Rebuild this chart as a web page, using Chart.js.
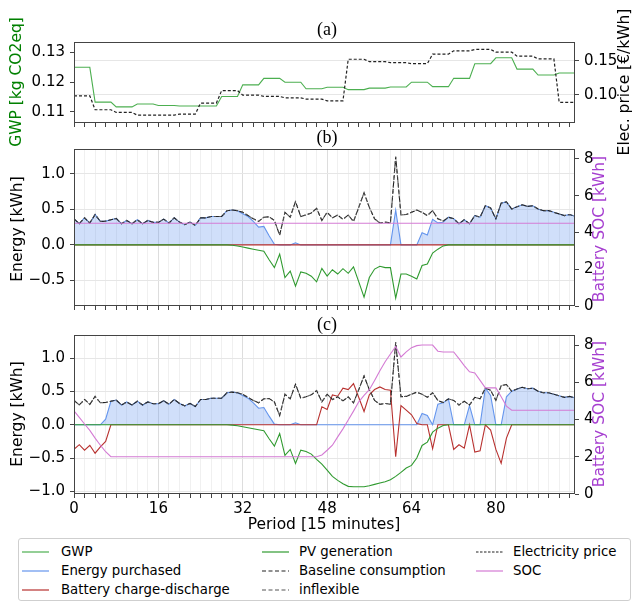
<!DOCTYPE html>
<html>
<head>
<meta charset="utf-8">
<script src="https://cdn.jsdelivr.net/npm/chart.js@4.4.1/dist/chart.umd.min.js"></script>
<style>
  body { margin: 0; background: #fff; }
  #wrap { position: relative; width: 638px; height: 601px; overflow: hidden; font-family: "DejaVu Sans", sans-serif; }
  canvas { position: absolute; left: 0; }
  #legend { position: absolute; left: 18px; top: 538px; width: 611px; height: 61px; border: 1px solid #cfcfcf; border-radius: 3px; background: #fff; }
  .item { position: absolute; height: 16px; font-size: 13.3px; line-height: 16px; white-space: nowrap; color: #000; }
  .item svg { position: absolute; left: 0; top: 7px; }
  .item span { position: absolute; top: 0; }
</style>
</head>
<body>
<div id="wrap">
  <canvas id="chart-a" width="638" height="165" style="top:0px"></canvas>
  <canvas id="chart-b" width="638" height="200" style="top:120px"></canvas>
  <canvas id="chart-c" width="638" height="232" style="top:305px"></canvas>
  <div id="legend"></div>
</div>
<script>
// x axis: 15 minute periods of one day
const periods = Array.from({ length: 96 }, (_, i) => i);
const xLabels = [0, 16, 32, 48, 64, 80];

// (a) GWP [kg CO2eq] and electricity price [€/kWh]
const gwp = [
  0.1250, 0.1250, 0.1250, 0.1250, 0.1133, 0.1133, 0.1133, 0.1133,
  0.1117, 0.1117, 0.1117, 0.1117, 0.1127, 0.1127, 0.1127, 0.1127,
  0.1122, 0.1122, 0.1122, 0.1122, 0.1120, 0.1120, 0.1120, 0.1120,
  0.1120, 0.1120, 0.1120, 0.1120, 0.1152, 0.1152, 0.1152, 0.1152,
  0.1191, 0.1191, 0.1191, 0.1191, 0.1213, 0.1213, 0.1213, 0.1213,
  0.1200, 0.1200, 0.1200, 0.1200, 0.1178, 0.1178, 0.1178, 0.1178,
  0.1183, 0.1183, 0.1183, 0.1183, 0.1175, 0.1175, 0.1175, 0.1175,
  0.1180, 0.1180, 0.1180, 0.1180, 0.1184, 0.1184, 0.1184, 0.1184,
  0.1200, 0.1200, 0.1200, 0.1200, 0.1185, 0.1185, 0.1185, 0.1185,
  0.1213, 0.1213, 0.1213, 0.1213, 0.1262, 0.1262, 0.1262, 0.1262,
  0.1282, 0.1282, 0.1282, 0.1282, 0.1244, 0.1244, 0.1244, 0.1244,
  0.1224, 0.1224, 0.1224, 0.1224, 0.1231, 0.1231, 0.1231, 0.1231
];
const price = [
  0.0985, 0.0985, 0.0985, 0.0985, 0.0780, 0.0780, 0.0780, 0.0780,
  0.0740, 0.0740, 0.0740, 0.0740, 0.0700, 0.0700, 0.0700, 0.0700,
  0.0700, 0.0700, 0.0700, 0.0700, 0.0716, 0.0716, 0.0716, 0.0716,
  0.0878, 0.0878, 0.0878, 0.0878, 0.1063, 0.1063, 0.1063, 0.1063,
  0.0995, 0.0995, 0.0995, 0.0995, 0.0976, 0.0976, 0.0976, 0.0976,
  0.0956, 0.0956, 0.0956, 0.0956, 0.0936, 0.0936, 0.0936, 0.0936,
  0.0912, 0.0912, 0.0912, 0.0912, 0.1525, 0.1525, 0.1525, 0.1525,
  0.1490, 0.1490, 0.1490, 0.1490, 0.1475, 0.1475, 0.1475, 0.1475,
  0.1460, 0.1460, 0.1460, 0.1460, 0.1600, 0.1600, 0.1600, 0.1600,
  0.1650, 0.1650, 0.1650, 0.1650, 0.1670, 0.1670, 0.1670, 0.1670,
  0.1630, 0.1630, 0.1630, 0.1630, 0.1570, 0.1570, 0.1570, 0.1570,
  0.1530, 0.1530, 0.1530, 0.1530, 0.0890, 0.0890, 0.0890, 0.0890
];

// consumption [kWh] (baseline = inflexible here)
const consumption = [
  0.367, 0.298, 0.381, 0.308, 0.427, 0.331, 0.335, 0.354, 0.372, 0.298,
  0.344, 0.298, 0.354, 0.298, 0.344, 0.317, 0.317, 0.363, 0.308, 0.381,
  0.321, 0.285, 0.321, 0.275, 0.381, 0.381, 0.400, 0.400, 0.400, 0.482,
  0.491, 0.482, 0.459, 0.413, 0.367, 0.331, 0.390, 0.395, 0.344, 0.138,
  0.459, 0.390, 0.610, 0.400, 0.422, 0.450, 0.514, 0.344, 0.459, 0.380,
  0.420, 0.360, 0.420, 0.330, 0.530, 0.735, 0.528, 0.367, 0.308, 0.321,
  0.308, 1.240, 0.422, 0.427, 0.459, 0.491, 0.459, 0.413, 0.482, 0.367,
  0.335, 0.390, 0.367, 0.298, 0.354, 0.298, 0.413, 0.390, 0.551, 0.519,
  0.367, 0.588, 0.606, 0.505, 0.537, 0.565, 0.542, 0.551, 0.505, 0.482,
  0.482, 0.459, 0.436, 0.413, 0.427, 0.404
];

// (b) no battery use
const pvB = [
  0, 0, 0, 0, 0, 0, 0, 0, 0, 0,
  0, 0, 0, 0, 0, 0, 0, 0, 0, 0,
  0, 0, 0, 0, 0, 0, 0, 0, 0, 0,
  -0.005, -0.015, -0.03, -0.045, -0.06, -0.075, -0.09, -0.21, -0.32, -0.13,
  -0.46, -0.37, -0.58, -0.38, -0.40, -0.44, -0.52, -0.33, -0.44, -0.35,
  -0.41, -0.335, -0.40, -0.31, -0.52, -0.735, -0.46, -0.34, -0.30, -0.32,
  -0.32, -0.75, -0.41, -0.41, -0.44, -0.48, -0.29, -0.27, -0.115, -0.06,
  -0.014, 0, 0, 0, 0, 0, 0, 0, 0, 0,
  0, 0, 0, 0, 0, 0, 0, 0, 0, 0,
  0, 0, 0, 0, 0, 0
];
const purchasedB = [
  0.367, 0.298, 0.381, 0.308, 0.427, 0.331, 0.335, 0.354, 0.372, 0.298,
  0.344, 0.298, 0.354, 0.298, 0.344, 0.317, 0.317, 0.363, 0.308, 0.381,
  0.321, 0.285, 0.321, 0.275, 0.381, 0.381, 0.400, 0.400, 0.400, 0.482,
  0.491, 0.482, 0.44, 0.40, 0.33, 0.25, 0.26, 0.13, 0.01, 0,
  0, 0, 0.03, 0, 0, 0, 0, 0, 0, 0,
  0, 0, 0, 0, 0, 0, 0, 0, 0, 0,
  0, 0.49, 0, 0, 0, 0, 0.17, 0.14, 0.36, 0.31,
  0.32, 0.390, 0.367, 0.298, 0.354, 0.298, 0.413, 0.390, 0.551, 0.519,
  0.367, 0.588, 0.606, 0.505, 0.537, 0.565, 0.542, 0.551, 0.505, 0.482,
  0.482, 0.459, 0.436, 0.413, 0.427, 0.404
];
const batteryB = [
  0, 0, 0, 0, 0, 0, 0, 0, 0, 0, 0, 0, 0, 0, 0, 0,
  0, 0, 0, 0, 0, 0, 0, 0, 0, 0, 0, 0, 0, 0, 0, 0,
  0, 0, 0, 0, 0, 0, 0, 0, 0, 0, 0, 0, 0, 0, 0, 0,
  0, 0, 0, 0, 0, 0, 0, 0, 0, 0, 0, 0, 0, 0, 0, 0,
  0, 0, 0, 0, 0, 0, 0, 0, 0, 0, 0, 0, 0, 0, 0, 0,
  0, 0, 0, 0, 0, 0, 0, 0, 0, 0, 0, 0, 0, 0, 0, 0
];
const socB = [
  4.5, 4.5, 4.5, 4.5, 4.5, 4.5, 4.5, 4.5, 4.5, 4.5, 4.5, 4.5, 4.5, 4.5, 4.5, 4.5,
  4.5, 4.5, 4.5, 4.5, 4.5, 4.5, 4.5, 4.5, 4.5, 4.5, 4.5, 4.5, 4.5, 4.5, 4.5, 4.5,
  4.5, 4.5, 4.5, 4.5, 4.5, 4.5, 4.5, 4.5, 4.5, 4.5, 4.5, 4.5, 4.5, 4.5, 4.5, 4.5,
  4.5, 4.5, 4.5, 4.5, 4.5, 4.5, 4.5, 4.5, 4.5, 4.5, 4.5, 4.5, 4.5, 4.5, 4.5, 4.5,
  4.5, 4.5, 4.5, 4.5, 4.5, 4.5, 4.5, 4.5, 4.5, 4.5, 4.5, 4.5, 4.5, 4.5, 4.5, 4.5,
  4.5, 4.5, 4.5, 4.5, 4.5, 4.5, 4.5, 4.5, 4.5, 4.5, 4.5, 4.5, 4.5, 4.5, 4.5, 4.5
];

// (c) with battery scheduling
const pvC = [
  0, 0, 0, 0, 0, 0, 0, 0, 0, 0,
  0, 0, 0, 0, 0, 0, 0, 0, 0, 0,
  0, 0, 0, 0, 0, 0, 0, 0, 0, 0,
  -0.005, -0.015, -0.03, -0.045, -0.06, -0.075, -0.09, -0.21, -0.32, -0.13,
  -0.46, -0.37, -0.58, -0.38, -0.40, -0.44, -0.52, -0.59, -0.68, -0.775,
  -0.835, -0.885, -0.925, -0.93, -0.93, -0.93, -0.915, -0.895, -0.875, -0.855,
  -0.825, -0.775, -0.715, -0.65, -0.61, -0.50, -0.31, -0.26, -0.11, -0.05,
  -0.01, 0, 0, 0, 0, 0, 0, 0, 0, 0,
  0, 0, 0, 0, 0, 0, 0, 0, 0, 0,
  0, 0, 0, 0, 0, 0
];
const purchasedC = [
  0, 0, 0, 0, 0, 0, 0.085, 0.354, 0.372, 0.298,
  0.344, 0.298, 0.354, 0.298, 0.344, 0.317, 0.317, 0.363, 0.308, 0.381,
  0.321, 0.285, 0.321, 0.275, 0.381, 0.381, 0.400, 0.400, 0.400, 0.482,
  0.491, 0.482, 0.44, 0.40, 0.33, 0.25, 0.26, 0.13, 0.01, 0,
  0, 0, 0.03, 0, 0, 0, 0, 0, 0, 0,
  0, 0, 0, 0, 0, 0, 0, 0, 0, 0,
  0, 0, 0, 0, 0, 0, 0.17, 0.14, 0, 0.31,
  0.33, 0.39, 0, 0, 0, 0.29, 0, 0, 0.55, 0.44,
  0, 0, 0.42, 0.505, 0.537, 0.565, 0.542, 0.551, 0.505, 0.482,
  0.482, 0.459, 0.436, 0.413, 0.427, 0.404
];
const batteryC = [
  -0.367, -0.298, -0.381, -0.308, -0.427, -0.331, -0.25, 0, 0, 0,
  0, 0, 0, 0, 0, 0, 0, 0, 0, 0,
  0, 0, 0, 0, 0, 0, 0, 0, 0, 0,
  0, 0, 0, 0, 0, 0, 0, 0, 0, 0,
  0, 0, 0, 0, 0, 0, 0, 0.27, 0.23, 0.45,
  0.43, 0.55, 0.53, 0.62, 0.41, 0.20, 0.45, 0.53, 0.57, 0.53,
  0.52, -0.48, 0.29, 0.22, 0.15, 0.02, 0, 0, -0.36, 0,
  0, 0, -0.37, -0.30, -0.35, 0, -0.41, -0.39, 0, -0.08,
  -0.37, -0.58, -0.20, 0, 0, 0, 0, 0, 0, 0,
  0, 0, 0, 0, 0, 0
];
const socC = [
  4.47, 4.12, 3.76, 3.42, 3.00, 2.62, 2.27, 2.0, 2.0, 2.0,
  2.0, 2.0, 2.0, 2.0, 2.0, 2.0, 2.0, 2.0, 2.0, 2.0,
  2.0, 2.0, 2.0, 2.0, 2.0, 2.0, 2.0, 2.0, 2.0, 2.0,
  2.0, 2.0, 2.0, 2.0, 2.0, 2.0, 2.0, 2.0, 2.0, 2.0,
  2.0, 2.0, 2.0, 2.0, 2.0, 2.0, 2.0, 2.10, 2.35, 2.62,
  3.07, 3.50, 3.97, 4.45, 4.95, 5.30, 5.60, 6.10, 6.62, 7.10,
  7.52, 7.92, 7.36, 7.63, 7.86, 7.97, 8.0, 8.0, 8.0, 7.67,
  7.63, 7.63, 7.63, 7.27, 6.90, 6.56, 6.50, 6.10, 5.70, 5.70,
  5.70, 5.22, 4.72, 4.5, 4.5, 4.5, 4.5, 4.5, 4.5, 4.5,
  4.5, 4.5, 4.5, 4.5, 4.5, 4.5
];

// colours
const gwpColor = '#4caf50';
const pvColor = '#2f9a2f';
const priceColor = '#222222';
const buyColor = '#6495ed';
const battColor = '#b8312f';
const baseColor = '#222222';
const inflexColor = '#555555';
const socColor = '#d47bd4';
const socTitleColor = '#a63fd0';

const FONT = '"DejaVu Sans", sans-serif';
Chart.defaults.font.family = FONT;
Chart.defaults.font.size = 15;
Chart.defaults.color = '#000';

// frame around each plot area
const framePlugin = {
  id: 'frame',
  afterDraw(chart) {
    const a = chart.chartArea, ctx = chart.ctx;
    ctx.save();
    ctx.strokeStyle = '#444';
    ctx.lineWidth = 1;
    ctx.strokeRect(a.left + 0.5, a.top + 0.5, a.right - a.left - 1, a.bottom - a.top - 1);
    ctx.restore();
  }
};
// panel titles and axis titles
const textPlugin = {
  id: 'texts',
  afterDraw(chart, args, opts) {
    const ctx = chart.ctx;
    (opts.items || []).forEach(it => {
      ctx.save();
      ctx.font = it.font || ('15.5px ' + FONT);
      ctx.fillStyle = it.color || '#000';
      ctx.textAlign = 'center';
      ctx.textBaseline = 'middle';
      ctx.translate(it.x, it.y - opts.top);
      if (it.rot) ctx.rotate(it.rot * Math.PI / 180);
      ctx.fillText(it.text, 0, 0);
      ctx.restore();
    });
  }
};
Chart.register(framePlugin, textPlugin);

function pts(arr) {
  return arr.map((v, i) => ({ x: periods[i], y: v }));
}
function line(label, arr, color, extra) {
  return Object.assign({
    label: label, data: pts(arr), borderColor: color, backgroundColor: color,
    borderWidth: 1.1, pointRadius: 0, fill: false, tension: 0
  }, extra || {});
}
function fixedTicks(values) {
  return scale => { scale.ticks = values.map(v => ({ value: v })); };
}
function minus(v, d) {
  return (v < 0 ? '\u2212' : '') + Math.abs(v).toFixed(d);
}

const xMinor = [];
for (let p = 0; p <= 94; p += 2) xMinor.push(p);

function xScale(height, showLabels, vgrid) {
  return {
    type: 'linear', min: 0, max: 95,
    afterBuildTicks: fixedTicks(xMinor),
    afterFit: s => { s.height = height; },
    border: { display: false },
    grid: {
      drawOnChartArea: vgrid,
      color: ctx => (ctx.tick && ctx.tick.value % 16 === 0) ? '#dddddd' : '#f0f0f0',
      tickColor: '#444', tickLength: 4
    },
    ticks: {
      autoSkip: false, maxRotation: 0, padding: 2,
      callback: v => (showLabels && xLabels.includes(v)) ? String(v) : ''
    }
  };
}
function yScale(pos, min, max, ticks, fmt, width, grid) {
  return {
    type: 'linear', position: pos, min: min, max: max,
    afterBuildTicks: fixedTicks(ticks),
    afterFit: s => { s.width = width; },
    border: { display: false },
    grid: { drawOnChartArea: grid, color: '#e6e6e6', tickColor: '#444', tickLength: 4 },
    ticks: { padding: 5, callback: fmt }
  };
}
function baseOptions(padTop, scales, texts, top) {
  return {
    responsive: false, animation: false, devicePixelRatio: 1,
    layout: { padding: { top: padTop, left: 0, right: 0, bottom: 0 } },
    scales: scales,
    plugins: { legend: { display: false }, tooltip: { enabled: false }, texts: { items: texts, top: top } }
  };
}

// panel (a)
new Chart(document.getElementById('chart-a'), {
  type: 'line',
  data: {
    datasets: [
      line('Electricity price', price, priceColor, { yAxisID: 'y2', borderDash: [3, 2], borderWidth: 1.2 }),
      line('GWP', gwp, gwpColor, { yAxisID: 'y' })
    ]
  },
  options: baseOptions(42, {
    x: xScale(42, false, false),
    y: yScale('left', 0.1063, 0.1335, [0.11, 0.12, 0.13], v => v.toFixed(2), 74, false),
    y2: yScale('right', 0.0584, 0.178, [0.10, 0.15], v => v.toFixed(2), 63, true)
  }, [
    { text: '(a)', x: 327, y: 30, font: '18px "Liberation Serif", serif' },
    { text: 'GWP [kg CO2eq]', x: 17, y: 82, rot: -90, color: '#008000' },
    { text: 'Elec. price [€/kWh]', x: 625, y: 82, rot: -90 }
  ], 0)
});

function energyDatasets(purchased, battery, pv, soc) {
  return [
    line('SOC', soc, socColor, { yAxisID: 'y2' }),
    line('inflexible', consumption, inflexColor, { yAxisID: 'y', borderDash: [2, 3] }),
    line('Baseline consumption', consumption, baseColor, { yAxisID: 'y', borderDash: [5, 2] }),
    line('PV generation', pv, pvColor, { yAxisID: 'y' }),
    line('Battery charge-discharge', battery, battColor, { yAxisID: 'y' }),
    line('Energy purchased', purchased, buyColor, { yAxisID: 'y', fill: 'origin', backgroundColor: 'rgba(100,149,237,0.3)' })
  ];
}

// panel (b)
new Chart(document.getElementById('chart-b'), {
  type: 'line',
  data: { datasets: energyDatasets(purchasedB, batteryB, pvB, socB) },
  options: baseOptions(29, {
    x: xScale(11, false, true),
    y: yScale('left', -0.86, 1.35, [-0.5, 0, 0.5, 1.0], v => minus(v, 1), 74, true),
    y2: yScale('right', 0, 8.54, [0, 2, 4, 6, 8], v => String(v), 63, false)
  }, [
    { text: '(b)', x: 327, y: 138, font: '18px "Liberation Serif", serif' },
    { text: 'Energy [kWh]', x: 18, y: 229, rot: -90 },
    { text: 'Battery SOC [kWh]', x: 600, y: 229, rot: -90, color: socTitleColor }
  ], 120)
});

// panel (c)
new Chart(document.getElementById('chart-c'), {
  type: 'line',
  data: { datasets: energyDatasets(purchasedC, batteryC, pvC, socC) },
  options: baseOptions(30, {
    x: xScale(43, true, true),
    y: yScale('left', -1.04, 1.35, [-1.0, -0.5, 0, 0.5, 1.0], v => minus(v, 1), 74, true),
    y2: yScale('right', 0, 8.54, [0, 2, 4, 6, 8], v => String(v), 63, false)
  }, [
    { text: '(c)', x: 327, y: 325, font: '18px "Liberation Serif", serif' },
    { text: 'Energy [kWh]', x: 18, y: 414, rot: -90 },
    { text: 'Battery SOC [kWh]', x: 600, y: 414, rot: -90, color: socTitleColor },
    { text: 'Period [15 minutes]', x: 324, y: 525 }
  ], 305)
});

// legend below the panels
const legendItems = [
  { label: 'GWP', color: gwpColor, dash: '', col: 0, row: 0 },
  { label: 'Energy purchased', color: buyColor, dash: '', col: 0, row: 1 },
  { label: 'Battery charge-discharge', color: battColor, dash: '', col: 0, row: 2 },
  { label: 'PV generation', color: pvColor, dash: '', col: 1, row: 0 },
  { label: 'Baseline consumption', color: baseColor, dash: '4,2.5', col: 1, row: 1 },
  { label: 'inflexible', color: inflexColor, dash: '4,2.5', col: 1, row: 2 },
  { label: 'Electricity price', color: priceColor, dash: '2.5,1.5', col: 2, row: 0 },
  { label: 'SOC', color: socColor, dash: '', col: 2, row: 1 }
];
const colPos = [[3, 42], [243, 280], [457, 494]];
const rowTop = [5, 24, 43];
const legendBox = document.getElementById('legend');
legendItems.forEach(it => {
  const div = document.createElement('div');
  div.className = 'item';
  div.style.left = colPos[it.col][0] + 'px';
  div.style.top = rowTop[it.row] + 'px';
  div.innerHTML =
    '<svg width="27" height="2"><line x1="0" y1="1" x2="27" y2="1" stroke="' + it.color +
    '" stroke-width="1.2"' + (it.dash ? ' stroke-dasharray="' + it.dash + '"' : '') + '/></svg>' +
    '<span style="left:' + (colPos[it.col][1] - colPos[it.col][0]) + 'px">' + it.label + '</span>';
  legendBox.appendChild(div);
});
</script>
</body>
</html>
